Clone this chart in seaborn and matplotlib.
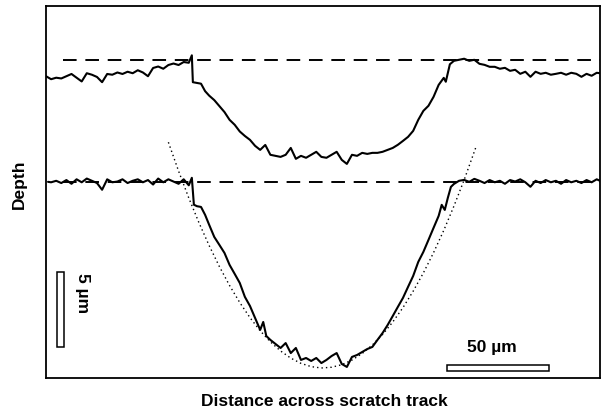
import numpy as np
import pandas as pd
import matplotlib
matplotlib.use("Agg")
import matplotlib.pyplot as plt
from matplotlib.patches import Rectangle
import seaborn as sns

# ---- data (micrometres) ----
upper_x = [0, 2.5, 5, 7.5, 10, 12.5, 15, 17.5, 20, 22.5, 25, 27.5, 30, 32.5, 35, 37.5,
           40, 42.5, 45, 47.5, 50, 52.5, 55, 57.5, 60, 62.5, 65, 67.5, 70, 71.5, 72,
           74, 76, 78, 80, 82.5, 85, 87.5, 90, 92.5, 95, 97.5, 100, 102.5, 105, 107.5,
           110, 112.5, 115, 117.5, 120, 122.5, 125, 127.5, 130, 132.5, 135, 137.5, 140,
           142.5, 145, 147.5, 150, 152.5, 155, 157.5, 160, 162.5, 165, 167.5, 170, 172.5,
           175, 177.5, 180, 182.5, 185, 187.5, 190, 192.5, 195, 196, 198, 200, 202.5,
           205, 207.5, 210, 212.5, 215, 217.5, 220, 222.5, 225, 227.5, 230, 232.5, 235,
           237.5, 240, 242.5, 245, 247.5, 250, 252.5, 255, 257.5, 260, 262.5, 265,
           267.5, 270, 271.6]
upper_y = [20.2, 20.0, 20.1, 20.05, 20.2, 20.35, 20.1, 19.85, 20.4, 20.3, 20.15, 19.8,
           20.35, 20.3, 20.45, 20.35, 20.5, 20.4, 20.6, 20.45, 20.2, 20.75, 20.85, 20.7,
           20.95, 21.05, 20.95, 21.15, 21.1, 21.6, 19.8,
           19.75, 19.7, 19.2, 18.9, 18.6, 18.2, 17.8, 17.28, 16.95, 16.5, 16.2, 15.94,
           15.54, 15.27, 15.6, 14.94, 14.87, 14.8, 14.94, 15.4, 14.67, 14.87, 14.74,
           14.94, 15.14, 14.8, 14.74, 14.94, 15.14, 14.6, 14.33, 14.94, 14.87, 15.07,
           15.0, 15.07, 15.07, 15.14, 15.27, 15.4, 15.61, 15.87, 16.14, 16.54, 17.28,
           17.88, 18.22, 18.82, 19.62, 20.09, 19.83, 21.0, 21.23, 21.3, 21.37, 21.23,
           21.3, 21.03, 20.96, 20.83, 20.83, 20.7, 20.76, 20.56, 20.63, 20.36, 20.5,
           20.16, 20.5, 20.36, 20.43, 20.3, 20.36, 20.43, 20.3, 20.43, 20.36, 20.16,
           20.36, 20.23, 20.43, 20.4]

lower_x = [1, 2.5, 5, 7.5, 10, 12.5, 15, 17.5, 20, 22.5, 25, 27.5, 30, 32.5, 35, 37.5,
           40, 42.5, 45, 47.5, 50, 52.5, 55, 57.5, 60, 62.5, 65, 67.5, 70, 71.5, 72.5,
           74, 76, 78, 80, 82.5, 85, 87.5, 90, 92.5, 95, 97.5, 100, 102.5, 105, 106.5,
           108, 110, 112.5, 115, 117.5, 120, 122.5, 125, 127.5, 130, 132.5, 135, 137.5,
           140, 142.5, 145, 147.5, 150, 152.5, 155, 157.5, 160, 162.5, 165, 167.5, 170,
           172.5, 175, 177.5, 180, 182.5, 185, 187.5, 190, 192.5, 194, 195.5, 197,
           198.5, 200, 202.5, 205, 207.5, 210, 212.5, 215, 217.5, 220, 222.5, 225,
           227.5, 230, 232.5, 235, 237.5, 240, 242.5, 245, 247.5, 250, 252.5, 255,
           257.5, 260, 262.5, 265, 267.5, 270, 271.6]
lower_y = [13.13, 13.1, 13.2, 13.05, 13.25, 13.0, 13.3, 13.1, 13.35, 13.2, 13.05, 12.6,
           13.3, 13.1, 13.15, 13.3, 13.05, 13.2, 13.3, 13.1, 13.25, 12.95, 13.35, 13.1,
           13.3, 13.15, 13.0, 13.3, 12.9, 13.4, 11.6,
           11.5, 11.45, 10.92, 10.25, 9.44, 8.91, 8.37, 7.57, 6.97, 6.36, 5.43, 4.82,
           4.02, 3.22, 3.75, 2.81, 2.55, 2.28, 2.01, 2.34, 1.67, 2.01, 1.21, 1.34, 1.14,
           1.34, 1.0, 1.21, 1.47, 1.67, 0.94, 0.74, 1.41, 1.54, 1.74, 1.94, 2.08, 2.55,
           3.01, 3.55, 4.15, 4.76, 5.36, 6.1, 6.83, 7.77, 8.44, 9.24, 10.05, 10.85,
           11.59, 11.25, 12.06, 12.79, 12.99, 13.2, 13.26, 13.13, 13.33, 13.2, 13.05,
           13.25, 13.1, 13.2, 13.0, 13.25, 13.15, 13.3, 13.1, 12.8, 13.2, 13.05, 13.25,
           13.1, 13.2, 13.0, 13.25, 13.1, 13.2, 13.05, 13.25, 13.1, 13.3, 13.2]

fit_x = [60, 65, 70, 75, 80, 85, 90, 95, 100, 105, 110, 115, 120, 125, 130, 135, 140,
         145, 150, 155, 160, 165, 170, 175, 180, 185, 190, 195, 200, 205, 211]
fit_y = [15.78, 13.85, 12.05, 10.39, 8.86, 7.46, 6.19, 5.05, 4.04, 3.16, 2.42, 1.81,
         1.33, 0.98, 0.76, 0.67, 0.72, 0.89, 1.2, 1.64, 2.21, 2.91, 3.75, 4.71, 5.81,
         7.03, 8.39, 9.88, 11.51, 13.26, 15.54]

upper_ref = 21.3
lower_ref = 13.13
ref_x = [8.3, 271.6]

x_label = "Distance across scratch track"
y_label = "Depth"
vbar_label = "5 \u00b5m"
hbar_label = "50 \u00b5m"
vbar_len = 5.0
hbar_len = 50.0

# ---- plotting ----
sns.set_theme(style="white")
plt.rcParams['font.family'] = ['Liberation Sans', 'DejaVu Sans']
plt.rcParams['text.color'] = 'black'
plt.rcParams['axes.labelcolor'] = 'black'

fig = plt.figure(figsize=(6.04, 4.15), dpi=100)
ax = fig.add_axes([46 / 604, 37 / 415, 554 / 604, 372 / 415])

up = pd.DataFrame({"x": upper_x, "y": upper_y})
lo = pd.DataFrame({"x": lower_x, "y": lower_y})
fit = pd.DataFrame({"x": fit_x, "y": fit_y})

sns.lineplot(data=fit, x="x", y="y", ax=ax, color="black", lw=1.0,
             linestyle=(0, (1, 2.2)), sort=False, estimator=None)
for ref in (upper_ref, lower_ref):
    sns.lineplot(x=ref_x, y=[ref, ref], ax=ax, color="black", lw=1.4,
                 linestyle=(0, (7, 4.5)), sort=False, estimator=None)
sns.lineplot(data=up, x="x", y="y", ax=ax, color="black", lw=1.5,
             sort=False, estimator=None)
sns.lineplot(data=lo, x="x", y="y", ax=ax, color="black", lw=1.5,
             sort=False, estimator=None)

# scale bars
ax.add_patch(Rectangle((5.5, 2.07), 3.3, vbar_len, facecolor="white",
                       edgecolor="black", lw=1.1, zorder=5))
ax.add_patch(Rectangle((196.6, 0.49), hbar_len, 0.38, facecolor="white",
                       edgecolor="black", lw=1.1, zorder=5))
ax.text(18.0, 5.68, vbar_label, rotation=-90, ha="center", va="center",
        fontsize=12.5, fontweight="bold", color="black")
ax.text(218.6, 2.07, hbar_label, ha="center", va="center",
        fontsize=12.5, fontweight="bold", color="black")

ax.set_xlim(0, 271.6)
ax.set_ylim(0, 24.9)
ax.set_xticks([])
ax.set_yticks([])
ax.set_xlabel(x_label, fontsize=12.5, fontweight="bold", color="black")
ax.set_ylabel(y_label, fontsize=12.5, fontweight="bold", color="black")
ax.xaxis.set_label_coords(0.502, -0.044)
ax.yaxis.set_label_coords(-0.034, 0.52)
for s in ax.spines.values():
    s.set_color("black")
    s.set_linewidth(1.3)

fig.savefig("out.png", dpi=100)
